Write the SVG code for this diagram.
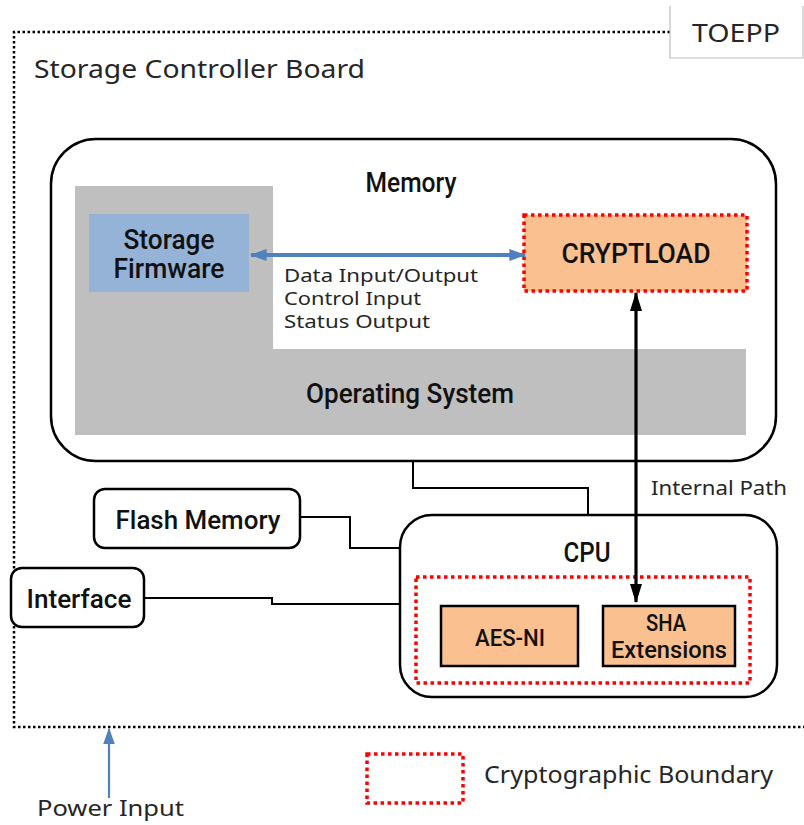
<svg xmlns="http://www.w3.org/2000/svg" width="804" height="825" viewBox="0 0 804 825">
<defs>
<style>
.reg{font-family:"Noto Sans","Open Sans",sans-serif;fill:#262626;}
.cnd{font-family:"Roboto","Liberation Sans",sans-serif;font-weight:500;fill:#111;}
.box{fill:#fff;stroke:#000;stroke-width:2.5;}
.crypt{fill:none;stroke:#ff0000;stroke-width:3.5;stroke-dasharray:3.5 3.5;}
.orange{fill:#fac090;}
.conn{fill:none;stroke:#000;stroke-width:2;}
</style>
<marker id="bluehead" viewBox="0 0 14 10" refX="13" refY="5" markerWidth="4.2" markerHeight="3.6" orient="auto-start-reverse" markerUnits="strokeWidth">
<path d="M0,0 L14,5 L0,10 z" fill="#4f81bd"/>
</marker>
<marker id="bluehead2" viewBox="0 0 14 10" refX="13" refY="5" markerWidth="7.5" markerHeight="6" orient="auto" markerUnits="strokeWidth">
<path d="M0,0 L14,5 L0,10 z" fill="#4f81bd"/>
</marker>
<marker id="blackhead" viewBox="0 0 16 10" refX="15" refY="5" markerWidth="6" markerHeight="4.2" orient="auto-start-reverse" markerUnits="strokeWidth">
<path d="M0,0 L16,5 L0,10 z" fill="#000"/>
</marker>
</defs>
<rect width="804" height="825" fill="#fff"/>

<g id="board">
<path d="M670,32 H14 V727 H806" fill="none" stroke="#000" stroke-width="2.5" stroke-dasharray="2.5 2.5"/>
<text class="reg" x="34" y="78" font-size="26" textLength="331" lengthAdjust="spacingAndGlyphs">Storage Controller Board</text>
</g>

<g id="toepp">
<path d="M670,6 V58 H803 V6" fill="#fff" stroke="#bfbfbf" stroke-width="1.2"/>
<text class="reg" x="736" y="42" font-size="25" text-anchor="middle" textLength="88" lengthAdjust="spacingAndGlyphs">TOEPP</text>
</g>

<g id="memory">
<rect class="box" x="51" y="139" width="725" height="322" rx="45"/>
<text class="cnd" x="411" y="192" font-size="27" text-anchor="middle" textLength="91" lengthAdjust="spacingAndGlyphs">Memory</text>
</g>

<g id="operating-system">
<path d="M75,186 H273 V349 H746 V435 H75 Z" fill="#bfbfbf"/>
<text class="cnd" x="410" y="403" font-size="28" text-anchor="middle" textLength="208" lengthAdjust="spacingAndGlyphs">Operating System</text>
</g>

<g id="storage-firmware">
<rect x="89" y="214" width="160" height="78" fill="#95b3d7"/>
<text class="cnd" x="169" y="249" font-size="27" text-anchor="middle" textLength="91" lengthAdjust="spacingAndGlyphs">Storage</text>
<text class="cnd" x="169" y="278" font-size="27" text-anchor="middle" textLength="111" lengthAdjust="spacingAndGlyphs">Firmware</text>
</g>

<g id="cryptload">
<rect class="orange" x="524" y="215" width="223" height="76"/>
<rect class="crypt" x="524" y="215" width="223" height="76"/>
<text class="cnd" x="636" y="263" font-size="28" text-anchor="middle" textLength="149" lengthAdjust="spacingAndGlyphs">CRYPTLOAD</text>
</g>

<g id="flash-memory">
<rect class="box" x="94" y="489" width="206" height="59" rx="11"/>
<text class="cnd" x="198" y="529" font-size="26" text-anchor="middle" textLength="165" lengthAdjust="spacingAndGlyphs">Flash Memory</text>
</g>

<g id="interface">
<rect class="box" x="11" y="568" width="133" height="59" rx="11"/>
<text class="cnd" x="79" y="608" font-size="26" text-anchor="middle" textLength="105" lengthAdjust="spacingAndGlyphs">Interface</text>
</g>

<g id="cpu">
<rect class="box" x="400" y="515" width="377" height="182" rx="32"/>
<text class="cnd" x="587" y="562" font-size="28" text-anchor="middle" textLength="47" lengthAdjust="spacingAndGlyphs">CPU</text>
<rect class="crypt" x="416" y="577" width="334" height="106"/>
</g>

<g id="aes-ni">
<rect class="orange" x="441" y="606" width="137" height="60" stroke="#000" stroke-width="2.5"/>
<text class="cnd" x="510" y="646" font-size="24" text-anchor="middle" textLength="70" lengthAdjust="spacingAndGlyphs">AES-NI</text>
</g>

<g id="sha-extensions">
<rect class="orange" x="603" y="606" width="132" height="60" stroke="#000" stroke-width="2.5"/>
<text class="cnd" x="666" y="631" font-size="24" text-anchor="middle" textLength="40" lengthAdjust="spacingAndGlyphs">SHA</text>
<text class="cnd" x="669" y="658" font-size="24" text-anchor="middle" textLength="116" lengthAdjust="spacingAndGlyphs">Extensions</text>
</g>

<g id="connectors">
<line x1="251" y1="255" x2="525" y2="255" stroke="#4f81bd" stroke-width="4" marker-start="url(#bluehead)" marker-end="url(#bluehead)"/>
<line x1="636" y1="293" x2="636" y2="602" stroke="#000" stroke-width="3.2" marker-start="url(#blackhead)" marker-end="url(#blackhead)"/>
<path class="conn" d="M413,461 V488 H588 V515"/>
<path class="conn" d="M300,517 H350 V548 H400"/>
<path class="conn" d="M144,598 H272 V604 H400"/>
<line x1="109" y1="798" x2="109" y2="729" stroke="#4f81bd" stroke-width="2.2" marker-end="url(#bluehead2)"/>
</g>

<g id="labels">
<text class="reg" x="284" y="282" font-size="18" textLength="194" lengthAdjust="spacingAndGlyphs">Data Input/Output</text>
<text class="reg" x="284" y="305" font-size="18" textLength="137" lengthAdjust="spacingAndGlyphs">Control Input</text>
<text class="reg" x="284" y="328" font-size="18" textLength="146" lengthAdjust="spacingAndGlyphs">Status Output</text>
<text class="reg" x="651" y="495" font-size="19" textLength="136" lengthAdjust="spacingAndGlyphs">Internal Path</text>
<text class="reg" x="37" y="816" font-size="22" textLength="147" lengthAdjust="spacingAndGlyphs">Power Input</text>
</g>

<g id="legend">
<rect class="crypt" x="367" y="754" width="96" height="49"/>
<text class="reg" x="484" y="783" font-size="23" textLength="289" lengthAdjust="spacingAndGlyphs">Cryptographic Boundary</text>
</g>
</svg>
